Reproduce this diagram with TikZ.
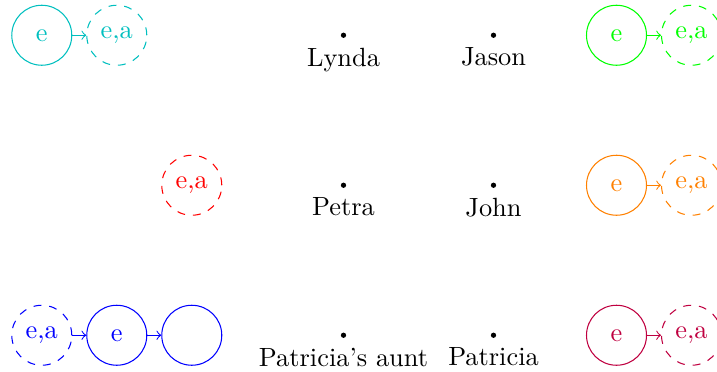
\documentclass[tikz,border=0pt]{standalone}
\definecolor{tealc}{rgb}{0,0.75,0.75}
\begin{document}
\begin{tikzpicture}[
  state/.style={circle, draw, minimum size=0.8cm, inner sep=0pt},
  guess/.style={state, dashed},
  person/.style={circle, fill=black, inner sep=0pt, minimum size=2pt, label distance=-1pt},
  link/.style={->}
]
\useasboundingbox (0,0) rectangle (9.56,-4.947);

% people
\node[person, label={below:Lynda}] (lynda) at (4.58,-0.47) {};
\node[person, label={below:Jason}] (jason) at (6.58,-0.47) {};
\node[person, label={below:Petra}] (petra) at (4.58,-2.47) {};
\node[person, label={below:John}] (john) at (6.58,-2.47) {};
\node[person, label={below:Patricia's aunt}] (paunt) at (4.58,-4.47) {};
\node[person, label={below:Patricia}] (patricia) at (6.58,-4.47) {};

% top left
\begin{scope}[tealc]
\node[state] (c1) at (0.557,-0.47) {e};
\node[guess] (c2) at (1.557,-0.47) {e,a};
\draw[link] (c1) -- (c2);
\end{scope}

% top right
\begin{scope}[green]
\node[state] (g1) at (8.22,-0.47) {e};
\node[guess] (g2) at (9.22,-0.47) {e,a};
\draw[link] (g1) -- (g2);
\end{scope}

% middle left
\begin{scope}[red]
\node[guess] (r1) at (2.557,-2.47) {e,a};
\end{scope}

% middle right
\begin{scope}[orange]
\node[state] (o1) at (8.22,-2.47) {e};
\node[guess] (o2) at (9.22,-2.47) {e,a};
\draw[link] (o1) -- (o2);
\end{scope}

% bottom left
\begin{scope}[blue]
\node[guess] (b1) at (0.557,-4.47) {e,a};
\node[state] (b2) at (1.557,-4.47) {e};
\node[state] (b3) at (2.557,-4.47) {};
\draw[link] (b1) -- (b2);
\draw[link] (b2) -- (b3);
\end{scope}

% bottom right
\begin{scope}[purple]
\node[state] (p1) at (8.22,-4.47) {e};
\node[guess] (p2) at (9.22,-4.47) {e,a};
\draw[link] (p1) -- (p2);
\end{scope}
\end{tikzpicture}
\end{document}
